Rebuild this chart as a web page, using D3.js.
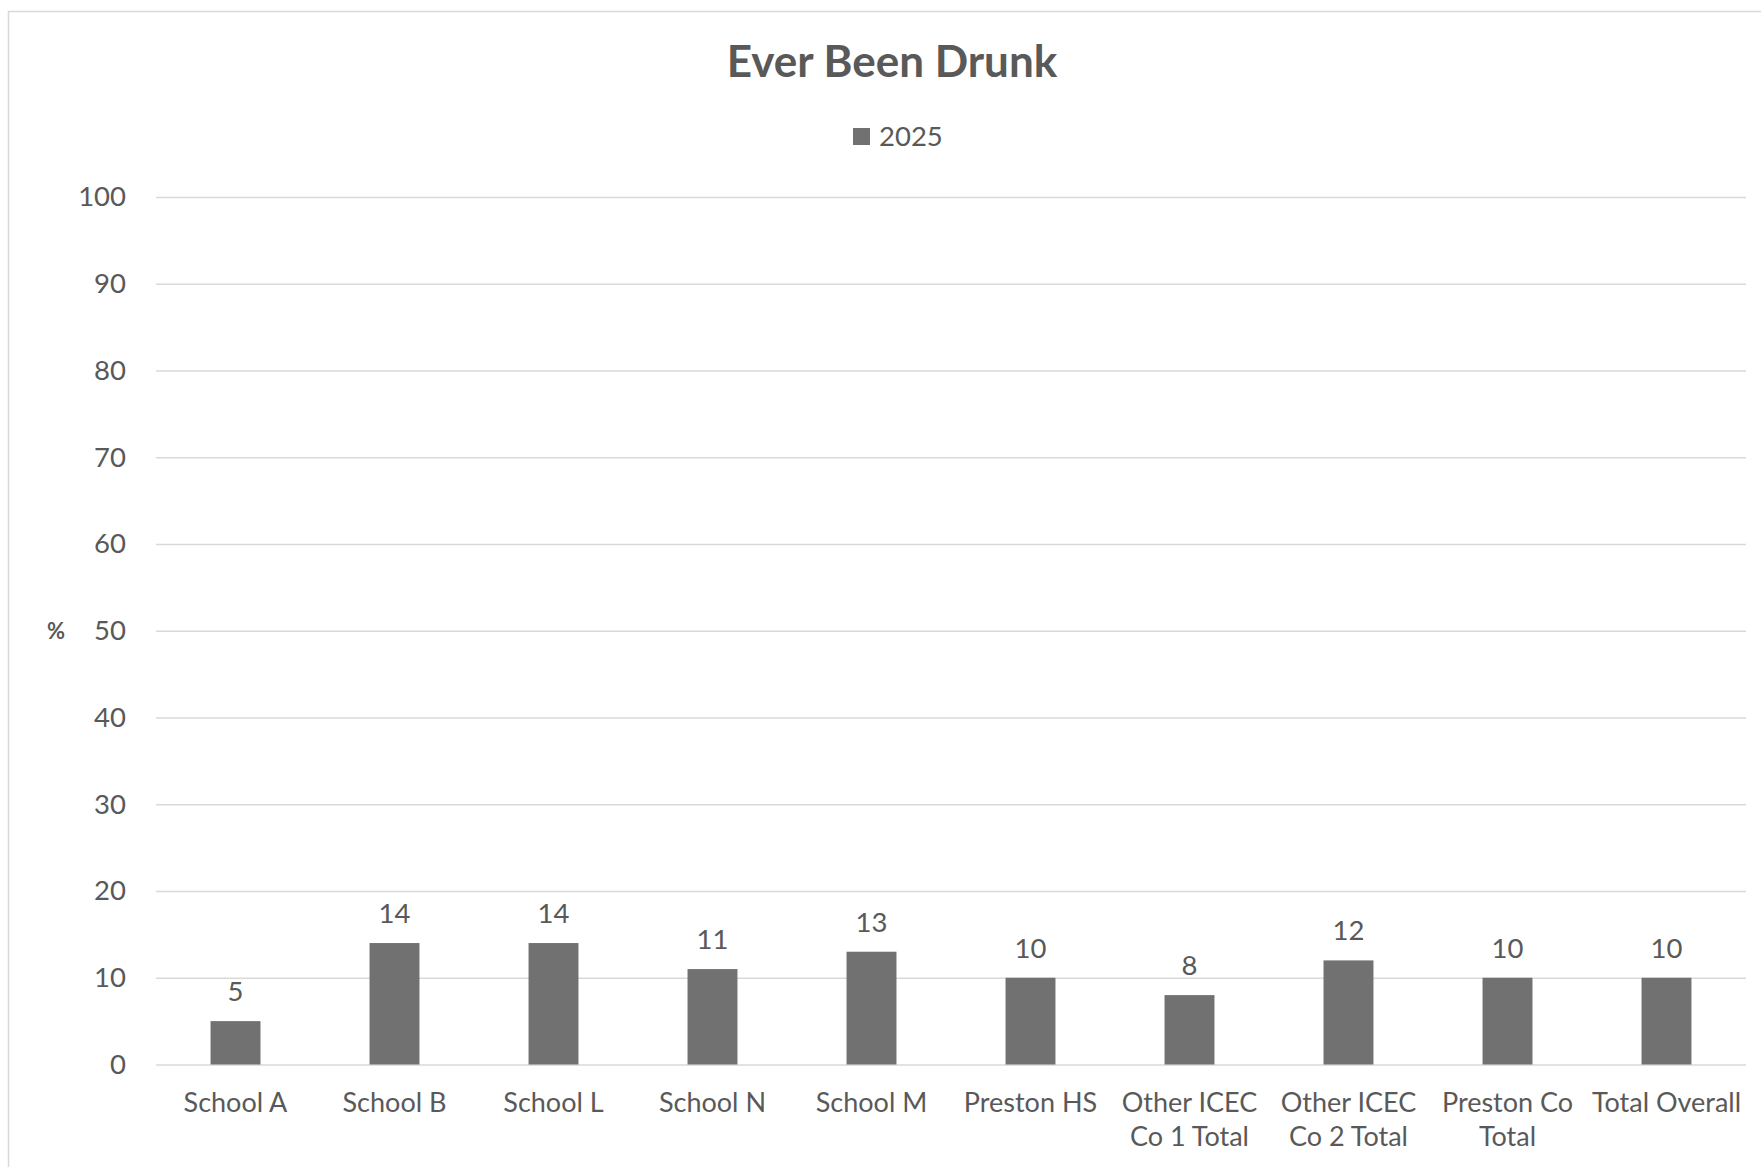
<!DOCTYPE html>
<html><head><meta charset="utf-8">
<script src="https://cdn.jsdelivr.net/npm/d3@7"></script>
<style>body{margin:0;background:#fff}svg{display:block}</style>
</head><body>
<script>
const categories = [["School A"],["School B"],["School L"],["School N"],["School M"],["Preston HS"],["Other ICEC","Co 1 Total"],["Other ICEC","Co 2 Total"],["Preston Co","Total"],["Total Overall"]];
const values2025 = [5,14,14,11,13,10,8,12,10,10];
const yTicks = [0,10,20,30,40,50,60,70,80,90,100];
const seriesName = "2025";
const title = "Ever Been Drunk";

const W=1761,H=1167;
const svg=d3.select("body").append("svg").attr("width",W).attr("height",H);
const FONT="Lato, 'Open Sans', sans-serif";
const TXT="#595959";

svg.append("rect").attr("x",8.5).attr("y",11.5).attr("width",W+10).attr("height",H+10)
  .attr("fill","none").attr("stroke","#d9d9d9").attr("stroke-width",1.5);

const x=d3.scaleBand().domain(d3.range(categories.length)).range([156,1746]).paddingInner(0.686).paddingOuter(0.343);
const y=d3.scaleLinear().domain([0,100]).range([1064.5,197]);

const g=svg.append("g");
const yAxis=d3.axisLeft(y).tickValues(yTicks).tickSize(-(1746-156)).tickPadding(30);
const ya=g.append("g").attr("transform","translate(156,0)").call(yAxis);
ya.select(".domain").remove();
ya.selectAll(".tick line").attr("stroke","#d9d9d9").attr("stroke-width",1.5);
ya.selectAll(".tick text").attr("fill",TXT).style("font-family",FONT).style("font-size","27.5px");

g.selectAll("rect.bar").data(values2025).join("rect").attr("class","bar")
  .attr("x",(d,i)=>x(i)).attr("width",x.bandwidth())
  .attr("y",d=>y(d)).attr("height",d=>y(0)-y(d)).attr("fill","#717171");

g.selectAll("text.lbl").data(values2025).join("text").attr("class","lbl")
  .attr("x",(d,i)=>x(i)+x.bandwidth()/2).attr("y",d=>y(d)-20)
  .attr("text-anchor","middle").attr("fill",TXT).style("font-family",FONT).style("font-size","27.5px")
  .text(d=>d);

const xa=g.selectAll("text.cat").data(categories).join("text").attr("class","cat")
  .attr("x",(d,i)=>x(i)+x.bandwidth()/2).attr("y",1112)
  .attr("text-anchor","middle").attr("fill",TXT).style("font-family",FONT).style("font-size","27px");
xa.selectAll("tspan").data(d=>d).join("tspan")
  .attr("x",function(){return d3.select(this.parentNode).attr("x");})
  .attr("dy",(d,i)=>i?34:0).text(d=>d);

svg.append("text").attr("x",892).attr("y",77).attr("text-anchor","middle")
  .attr("fill",TXT).style("font-family",FONT).style("font-weight","bold").style("font-size","44px").text(title);

svg.append("rect").attr("x",853).attr("y",128).attr("width",17).attr("height",17).attr("fill","#717171");
svg.append("text").attr("x",879).attr("y",146).attr("fill",TXT).style("font-family",FONT).style("font-size","27.5px").text(seriesName);

svg.append("text").attr("x",56).attr("y",y(50)+8).attr("text-anchor","middle").attr("fill",TXT)
  .style("font-family",FONT).style("font-weight","bold").style("font-size","22px").text("%");
</script>
</body></html>
